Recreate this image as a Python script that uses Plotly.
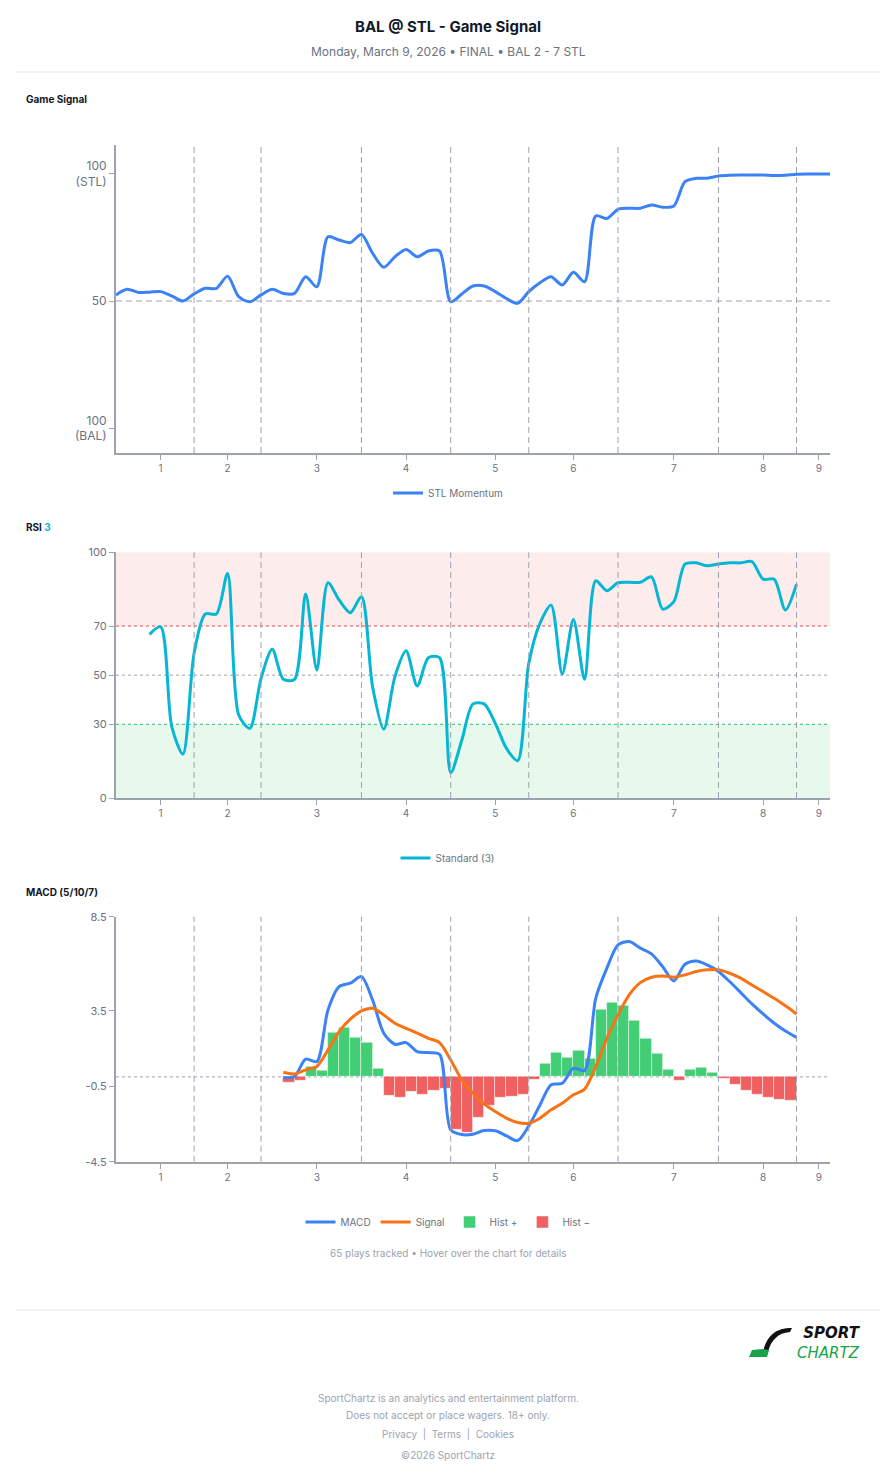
import plotly.graph_objects as go

W, H = 896, 1480


def py(p):
    return 1 - p / H


def px(p):
    return p / W


# ---------------- data ----------------
inning_labels = ["1", "2", "3", "4", "5", "6", "7", "8", "9"]
inning_tick_plays = [4, 10, 18, 26, 34, 41, 50, 58, 63]
inning_break_plays = [7, 13, 22, 30, 37, 45, 54, 61]

signal_plays = list(range(0, 65))
stl_momentum = [52.4, 54.6, 53.4, 53.5, 53.7, 52.0, 50.0, 52.8, 55.0, 55.0,
                59.8, 51.7, 49.7, 52.4, 54.6, 53.0, 53.0, 59.6, 55.6, 75.3,
                74.0, 73.0, 76.2, 68.8, 63.3, 67.4, 70.3, 67.4, 69.7, 69.7,
                49.7, 52.8, 55.9, 55.9, 53.7, 51.0, 49.1, 53.7, 57.2, 59.6,
                56.3, 61.3, 57.6, 83.5, 82.5, 86.1, 86.5, 86.5, 87.8, 86.9,
                87.4, 97.0, 98.3, 98.3, 99.2, 99.5, 99.6, 99.6, 99.6, 99.4,
                99.5, 99.9, 100.0, 100.0, 100.0]

rsi_plays = list(range(3, 62))
rsi_values = [66.6, 69.7, 29.0, 17.9, 58.9, 74.9, 74.9, 91.4, 33.8, 28.4,
              48.7, 60.5, 48.3, 48.3, 83.0, 52.1, 87.6, 80.6, 75.4, 81.9,
              45.3, 28.0, 49.4, 59.9, 45.6, 57.1, 57.1, 10.3, 23.6, 38.3,
              38.3, 30.4, 20.2, 15.2, 54.8, 71.1, 78.5, 50.5, 72.7, 48.3,
              88.4, 84.4, 87.6, 87.8, 87.8, 90.0, 76.9, 79.9, 95.2, 95.7,
              94.5, 95.2, 95.7, 95.7, 96.2, 89.1, 89.0, 76.5, 87.0]

macd_plays = list(range(15, 62))
macd_values = [-0.04, 0.02, 0.94, 0.81, 3.55, 4.79, 4.97, 5.32, 4.08, 2.32,
               1.73, 1.82, 1.34, 1.29, 1.20, -2.81, -3.06, -3.04, -2.85, -2.86,
               -3.13, -3.38, -2.60, -1.49, -0.42, -0.34, 0.46, 0.34, 4.17, 5.77,
               7.00, 7.18, 6.83, 6.53, 5.85, 5.09, 5.98, 6.15, 5.94, 5.59,
               5.06, 4.47, 3.87, 3.34, 2.85, 2.44, 2.10]
signal_values = [0.25, 0.16, 0.37, 0.55, 1.43, 2.40, 3.06, 3.50, 3.64, 3.29,
                 2.85, 2.58, 2.32, 2.05, 1.82, 0.90, -0.16, -0.87, -1.43, -1.84,
                 -2.19, -2.42, -2.46, -2.19, -1.75, -1.40, -0.95, -0.65, 0.55, 2.05,
                 3.29, 4.35, 5.00, 5.29, 5.36, 5.29, 5.41, 5.59, 5.68, 5.68,
                 5.50, 5.24, 4.88, 4.53, 4.17, 3.77, 3.34]

hist_plays = list(range(15, 61))
hist_values = [-0.30, -0.20, 0.55, 0.32, 2.37, 2.62, 2.10, 1.79, 0.42, -1.01,
               -1.13, -0.81, -0.92, -0.72, -0.62, -2.80, -2.94, -2.19, -1.52, -1.13,
               -1.04, -0.95, -0.16, 0.69, 1.31, 1.04, 1.40, 0.94, 3.59, 3.94,
               3.77, 2.99, 2.02, 1.22, 0.37, -0.20, 0.37, 0.51, 0.23, -0.11,
               -0.42, -0.74, -0.95, -1.13, -1.22, -1.27]

# ---------------- colors / fonts ----------------
FONT = "Inter"
BLUE = "#3b82f6"
CYAN = "#06b6d4"
ORANGE = "#f97316"
GREEN = "#22c55e"
RED = "#ef4444"
AXIS = "#9ca3af"
TICK = "#6b7280"
VLINE = "#9ca3af"
LOGO_GREEN = "#16a34a"

fig = go.Figure()

# Game signal
fig.add_trace(go.Scatter(
    x=signal_plays, y=stl_momentum, mode="lines", name="STL Momentum",
    line=dict(color=BLUE, width=3, shape="spline", smoothing=0.8),
    xaxis="x", yaxis="y", legend="legend"))

# RSI
fig.add_trace(go.Scatter(
    x=rsi_plays, y=rsi_values, mode="lines", name="Standard (3)",
    line=dict(color=CYAN, width=3, shape="spline", smoothing=0.8),
    xaxis="x2", yaxis="y2", legend="legend2"))

# MACD histogram
pos_x = [p for p, v in zip(hist_plays, hist_values) if v >= 0]
pos_y = [v for v in hist_values if v >= 0]
neg_x = [p for p, v in zip(hist_plays, hist_values) if v < 0]
neg_y = [v for v in hist_values if v < 0]

fig.add_trace(go.Bar(
    x=pos_x, y=pos_y, width=1, offset=0, name="Hist +",
    marker=dict(color="rgba(34,197,94,0.85)",
                line=dict(color="rgba(255,255,255,0.6)", width=0.8)),
    xaxis="x3", yaxis="y3", legend="legend3", legendrank=3))
fig.add_trace(go.Bar(
    x=neg_x, y=neg_y, width=1, offset=0, name="Hist \u2212",
    marker=dict(color="rgba(239,68,68,0.85)",
                line=dict(color="rgba(255,255,255,0.6)", width=0.8)),
    xaxis="x3", yaxis="y3", legend="legend3", legendrank=4))

fig.add_trace(go.Scatter(
    x=macd_plays, y=macd_values, mode="lines", name="MACD",
    line=dict(color=BLUE, width=3, shape="spline", smoothing=0.8),
    xaxis="x3", yaxis="y3", legend="legend3", legendrank=1))
fig.add_trace(go.Scatter(
    x=macd_plays, y=signal_values, mode="lines", name="Signal",
    line=dict(color=ORANGE, width=3, shape="spline", smoothing=0.8),
    xaxis="x3", yaxis="y3", legend="legend3", legendrank=2))

# ---------------- axes ----------------
xdom = [px(116), px(830)]


def xaxis(anchor):
    return dict(domain=xdom, anchor=anchor, range=[0, 64],
                tickmode="array", tickvals=inning_tick_plays, ticktext=inning_labels,
                showline=True, linecolor=AXIS, linewidth=2,
                ticks="outside", ticklen=5, tickcolor=AXIS, tickwidth=1,
                tickfont=dict(family=FONT, size=10, color=TICK),
                showgrid=False, zeroline=False, fixedrange=True, automargin=False)


def yaxis(anchor, dom, rng, vals, texts, size):
    return dict(domain=dom, anchor=anchor, range=rng,
                tickmode="array", tickvals=vals, ticktext=texts,
                showline=True, linecolor=AXIS, linewidth=2,
                ticks="outside", ticklen=5, tickcolor=AXIS, tickwidth=1,
                tickfont=dict(family=FONT, size=size, color=TICK),
                showgrid=False, zeroline=False, fixedrange=True, automargin=False)


layout = dict(
    width=W, height=H,
    margin=dict(l=0, r=0, t=0, b=0, pad=0, autoexpand=False),
    paper_bgcolor="white", plot_bgcolor="white",
    font=dict(family=FONT, color=TICK),
    barmode="overlay", bargap=0,
    hovermode="x unified",
    xaxis=xaxis("y"),
    xaxis2=xaxis("y2"),
    xaxis3=xaxis("y3"),
    yaxis=yaxis("x", [py(453), py(145)], [-9.8, 111.4], [0, 50, 100],
                ["100<br>(BAL)", "50", "100<br>(STL)"], 12),
    yaxis2=yaxis("x2", [py(798), py(552.3)], [0, 100], [0, 30, 50, 70, 100],
                 ["0", "30", "50", "70", "100"], 11),
    yaxis3=yaxis("x3", [py(1161.7), py(916.7)], [-4.5, 8.5], [-4.5, -0.5, 3.5, 8.5],
                 ["-4.5", "-0.5", "3.5", "8.5"], 11),
)

leg_common = dict(orientation="h", x=0.5, xanchor="center", yanchor="middle",
                  font=dict(family=FONT, size=10, color=TICK),
                  bgcolor="rgba(0,0,0,0)", itemwidth=30)
layout["legend"] = dict(leg_common, y=py(493))
layout["legend2"] = dict(leg_common, y=py(858))
layout["legend3"] = dict(leg_common, y=py(1222), traceorder="normal")
layout["showlegend"] = True

shapes = []
# RSI zones
shapes.append(dict(type="rect", xref="x2 domain", yref="y2", x0=0, x1=1, y0=70, y1=100,
                   fillcolor="rgba(239,68,68,0.10)", line=dict(width=0), layer="below"))
shapes.append(dict(type="rect", xref="x2 domain", yref="y2", x0=0, x1=1, y0=0, y1=30,
                   fillcolor="rgba(34,197,94,0.11)", line=dict(width=0), layer="below"))

# inning break lines
for ax in ["", "2", "3"]:
    for b in inning_break_plays:
        shapes.append(dict(type="line", xref="x" + ax, yref=f"y{ax} domain",
                           x0=b, x1=b, y0=0, y1=1,
                           line=dict(color=VLINE, width=1, dash="6px,4px"), layer="above"))

# horizontal reference lines
shapes.append(dict(type="line", xref="x domain", yref="y", x0=0, x1=1, y0=50, y1=50,
                   line=dict(color=VLINE, width=1, dash="6px,4px"), layer="below"))
shapes.append(dict(type="line", xref="x2 domain", yref="y2", x0=0, x1=1, y0=70, y1=70,
                   line=dict(color=RED, width=1, dash="3px,3px"), layer="below"))
shapes.append(dict(type="line", xref="x2 domain", yref="y2", x0=0, x1=1, y0=50, y1=50,
                   line=dict(color=VLINE, width=1, dash="3px,3px"), layer="below"))
shapes.append(dict(type="line", xref="x2 domain", yref="y2", x0=0, x1=1, y0=30, y1=30,
                   line=dict(color=GREEN, width=1, dash="3px,3px"), layer="below"))
shapes.append(dict(type="line", xref="x3 domain", yref="y3", x0=0, x1=1, y0=0, y1=0,
                   line=dict(color=VLINE, width=1, dash="3px,3px"), layer="below"))

# separators
for yy in [72, 1310]:
    shapes.append(dict(type="line", xref="paper", yref="paper", x0=px(16), x1=px(880),
                       y0=py(yy), y1=py(yy), line=dict(color="#e5e7eb", width=1)))

# logo mark (stick shaft + blade)
shapes.append(dict(type="path", xref="paper", yref="paper",
                   path=(f"M {px(792)} {py(1328)} C {px(776)} {py(1328)}, {px(767)} {py(1335)}, "
                         f"{px(763)} {py(1352)} L {px(768)} {py(1352)} C {px(771)} {py(1340)}, "
                         f"{px(778)} {py(1333)}, {px(790)} {py(1332)} Z"),
                   fillcolor="#111111", line=dict(width=0)))
shapes.append(dict(type="path", xref="paper", yref="paper",
                   path=(f"M {px(752)} {py(1350)} L {px(763)} {py(1349)} L {px(769)} {py(1350)} "
                         f"L {px(767)} {py(1357)} L {px(749)} {py(1357)} Z"),
                   fillcolor=LOGO_GREEN, line=dict(width=0)))
layout["shapes"] = shapes

ann = []


def text(t, x, y, size, color, anchor="center", bold=False):
    ann.append(dict(text=(f"<b>{t}</b>" if bold else t), x=x, y=y, xref="paper", yref="paper",
                    xanchor=anchor, yanchor="middle", showarrow=False,
                    font=dict(family=FONT, size=size, color=color)))


text("BAL @ STL - Game Signal", 0.5, py(27), 15, "#111827", bold=True)
text("Monday, March 9, 2026 \u2022 FINAL \u2022 BAL 2 - 7 STL", 0.5, py(52), 12, TICK)
text("Game Signal", px(24), py(99), 10, "#111827", anchor="left", bold=True)
text(f"RSI <span style='color:{CYAN}'>3</span>", px(24), py(527), 10, "#111827",
     anchor="left", bold=True)
text("MACD (5/10/7)", px(24), py(892), 10, "#111827", anchor="left", bold=True)
text("65 plays tracked \u2022 Hover over the chart for details", 0.5, py(1253), 10, "#9ca3af")

# logo text (single block, two lines)
ann.append(dict(text=("<b><i>SPORT</i></b><br>"
                      f"<span style='color:{LOGO_GREEN}'><i>CHARTZ</i></span>"),
                x=px(863), y=py(1343), xref="paper", yref="paper",
                xanchor="right", yanchor="middle", align="right", showarrow=False,
                font=dict(family="DejaVu Sans", size=15, color="#111111")))

text("SportChartz is an analytics and entertainment platform.", 0.5, py(1398), 10, "#9ca3af")
text("Does not accept or place wagers. 18+ only.", 0.5, py(1415), 10, "#9ca3af")
text("Privacy  |  Terms  |  Cookies", 0.5, py(1434), 10, "#9ca3af")
text("\u00a92026 SportChartz", 0.5, py(1455), 10, "#9ca3af")
layout["annotations"] = ann

fig.update_layout(layout)
fig.write_html("out.html")
